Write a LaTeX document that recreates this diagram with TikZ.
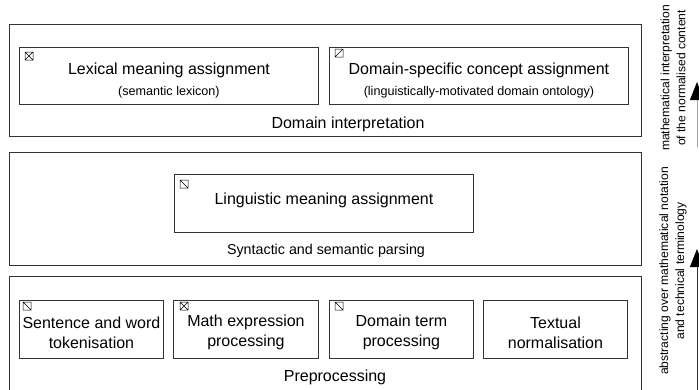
\documentclass[tikz,border=0pt]{standalone}
\usepackage{fontspec}
\setmainfont{Liberation Sans}
\usetikzlibrary{arrows.meta,calc}
\definecolor{edge}{HTML}{333333}
\definecolor{lightedge}{HTML}{A0A0A0}
\tikzset{
  outerbox/.style={draw=edge, line width=0.9pt, anchor=north west, inner sep=0pt},
  innerbox/.style={draw=edge, line width=0.9pt, anchor=north west, inner sep=0pt},
  boxtext/.style={align=center, inner sep=0pt, font=\fontsize{16}{20}\selectfont},
  layerlabel/.style={font=\fontsize{16}{19}\selectfont, inner sep=0pt},
  sidetext/.style={rotate=90, align=center, font=\fontsize{12.1}{16}\selectfont, inner sep=0pt},
  sidearrow/.style={line width=1pt, -{Triangle[width=14pt,length=18pt,black]}},
  icon/.style={line width=0.5pt, draw=black},
}
\newcommand{\subtxt}[1]{{\fontsize{12.6}{15}\selectfont #1}}
\newcommand{\iconX}[2]{\draw[icon] ($(#1.north west)+#2$) rectangle ++(8,8) ++(-8,-8) -- ++(8,8) ++(0,-8) -- ++(-8,8);}
\newcommand{\iconU}[2]{\draw[icon] ($(#1.north west)+#2$) rectangle ++(8,8) ++(-8,0) -- ++(8,-8);}
\newcommand{\iconD}[2]{\draw[icon] ($(#1.north west)+#2$) rectangle ++(8,8) ++(-8,-8) -- ++(8,8);}
\begin{document}
\begin{tikzpicture}[x=1pt,y=-1pt]
\useasboundingbox (0,0) rectangle (699,389);
\clip (0,0) rectangle (699,389);

% ---- layer 1: domain interpretation
\node[outerbox, minimum width=632pt, minimum height=112pt] (dom) at (8.5,24) {};
\node[innerbox, minimum width=299pt, minimum height=57pt] (lex) at (19,47) {};
\node[boxtext] (lext) at ($(lex.center)+(0,5)$)
  {Lexical meaning assignment\\[1pt]\subtxt{(semantic lexicon)}};
\node[innerbox, minimum width=299pt, minimum height=57pt] (dsc) at (329,47) {};
\node[boxtext] (dsct) at ($(dsc.center)+(0,5)$)
  {Domain-specific concept assignment\\[1pt]\subtxt{(linguistically-motivated domain ontology)}};
\node[layerlabel] (domlab) at (348,124) {Domain interpretation};
\iconX{lex}{(6,5)}
\iconU{dsc}{(6,2)}

% ---- layer 2: syntactic and semantic parsing
\node[outerbox, minimum width=632pt, minimum height=113pt] (syn) at (8.5,152) {};
\node[innerbox, minimum width=299pt, minimum height=58pt] (lin) at (174,174) {};
\node[boxtext] (lint) at ($(lin.center)+(0,-3)$) {Linguistic meaning assignment};
\node[layerlabel, font=\fontsize{14.3}{17}\selectfont] (synlab) at (326,251) {Syntactic and semantic parsing};
\iconD{lin}{(6,6)}

% ---- layer 3: preprocessing
\node[outerbox, minimum width=632pt, minimum height=140pt] (pre) at (8.5,276) {};
\node[innerbox, minimum width=144pt, minimum height=58pt] (tok) at (19,300) {};
\node[boxtext] (tokt) at ($(tok.center)+(0,3)$) {Sentence and word\\tokenisation};
\node[innerbox, minimum width=145pt, minimum height=58pt] (mat) at (173,300) {};
\node[boxtext] (matt) at ($(mat.center)+(0,3)$) {Math expression\\processing};
\node[innerbox, minimum width=144pt, minimum height=58pt] (dtp) at (329,300) {};
\node[boxtext] (dtpt) at ($(dtp.center)+(0,3)$) {Domain term\\processing};
\node[innerbox, minimum width=144pt, minimum height=58pt] (txt) at (483,300) {};
\node[boxtext] (txtt) at ($(txt.center)+(0,3)$) {Textual\\normalisation};
\node[layerlabel] (prelab) at (335,377) {Preprocessing};
\iconD{tok}{(4,2)}
\iconX{mat}{(7,2)}
\iconD{dtp}{(6,2)}

% ---- right side: arrows and captions
\node[sidetext] (cap1) at (673,78) {mathematical interpretation\\of the normalised content};
\node[sidetext] (cap2) at (673,271) {abstracting over mathematical notation\\and technical terminology};
\coordinate (a1s) at (697,147);
\coordinate (a1e) at (697,82);
\coordinate (a2s) at (697,395);
\coordinate (a2e) at (697,249);
\draw[sidearrow, draw=lightedge] (a1s) -- (a1e);
\draw[sidearrow, draw=edge] (a2s) -- (a2e);
\end{tikzpicture}
\end{document}
